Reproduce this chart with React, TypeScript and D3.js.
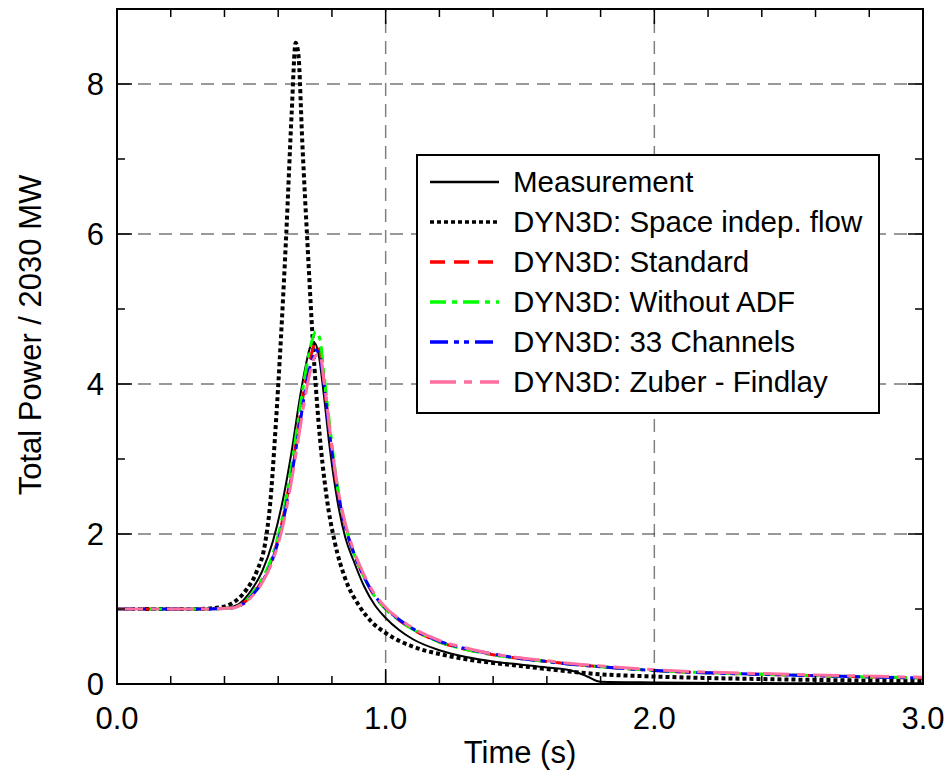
import React, { useEffect, useRef } from "react";
import * as d3 from "d3";

// time (s) / normalized total power
const measTime = [0, 0.3, 0.4, 0.45, 0.5, 0.54, 0.58, 0.62, 0.65, 0.68, 0.7, 0.72, 0.735, 0.75, 0.77, 0.79, 0.82, 0.85, 0.88, 0.92, 0.96, 1.0, 1.05, 1.1, 1.2, 1.3, 1.4, 1.5, 1.6, 1.7, 1.75, 1.8, 2.0, 2.5, 3.0];
const measPower = [1.0, 1.0, 1.01, 1.06, 1.25, 1.5, 1.9, 2.5, 3.1, 3.8, 4.2, 4.5, 4.55, 4.4, 3.85, 3.2, 2.45, 1.95, 1.65, 1.3, 1.05, 0.88, 0.72, 0.6, 0.45, 0.36, 0.3, 0.26, 0.22, 0.17, 0.1, 0.03, 0.02, 0.01, 0.01];

const sifTime = [0, 0.3, 0.38, 0.43, 0.48, 0.52, 0.55, 0.57, 0.59, 0.61, 0.63, 0.65, 0.665, 0.675, 0.69, 0.71, 0.73, 0.75, 0.78, 0.81, 0.85, 0.9, 0.95, 1.0, 1.1, 1.2, 1.3, 1.4, 1.5, 1.6, 1.7, 1.8, 2.0, 2.5, 3.0];
const sifPower = [1.0, 1.0, 1.02, 1.08, 1.25, 1.5, 1.85, 2.4, 3.4, 4.6, 6.0, 7.6, 8.55, 8.4, 7.2, 5.8, 4.5, 3.5, 2.5, 1.9, 1.4, 1.05, 0.82, 0.68, 0.5, 0.4, 0.33, 0.28, 0.24, 0.2, 0.16, 0.13, 0.1, 0.06, 0.04];

const simTime = [0, 0.3, 0.42, 0.47, 0.5, 0.54, 0.58, 0.62, 0.65, 0.68, 0.7, 0.72, 0.74, 0.755, 0.77, 0.79, 0.82, 0.85, 0.88, 0.91, 0.95, 1.0, 1.05, 1.1, 1.2, 1.3, 1.4, 1.5, 1.6, 1.7, 1.8, 2.0, 2.5, 3.0];
const standardPower = [1.0, 1.0, 1.01, 1.08, 1.18, 1.38, 1.7, 2.25, 2.85, 3.55, 4.0, 4.35, 4.55, 4.45, 4.05, 3.4, 2.6, 2.1, 1.75, 1.5, 1.22, 1.0, 0.85, 0.73, 0.56, 0.46, 0.39, 0.34, 0.3, 0.26, 0.23, 0.18, 0.12, 0.08];
const noAdfPower = [1.0, 1.0, 1.01, 1.08, 1.19, 1.4, 1.73, 2.3, 2.92, 3.65, 4.12, 4.5, 4.7, 4.6, 4.15, 3.5, 2.65, 2.12, 1.76, 1.5, 1.22, 1.0, 0.85, 0.73, 0.56, 0.46, 0.39, 0.34, 0.3, 0.26, 0.23, 0.18, 0.12, 0.08];
const ch33Power = [1.0, 1.0, 1.01, 1.07, 1.17, 1.36, 1.67, 2.2, 2.78, 3.45, 3.9, 4.25, 4.45, 4.38, 4.0, 3.38, 2.6, 2.1, 1.76, 1.5, 1.23, 1.01, 0.86, 0.74, 0.57, 0.47, 0.4, 0.34, 0.3, 0.26, 0.23, 0.18, 0.12, 0.08];
const zfPower = [1.0, 1.0, 1.01, 1.07, 1.16, 1.35, 1.65, 2.15, 2.72, 3.38, 3.82, 4.18, 4.38, 4.4, 4.05, 3.45, 2.65, 2.14, 1.79, 1.53, 1.25, 1.02, 0.87, 0.75, 0.58, 0.48, 0.4, 0.35, 0.31, 0.27, 0.24, 0.19, 0.13, 0.09];

const legendLabels = ["Measurement", "DYN3D: Space indep. flow", "DYN3D: Standard", "DYN3D: Without ADF", "DYN3D: 33 Channels", "DYN3D: Zuber - Findlay"];
const xTicks = [0, 1, 2, 3];
const yTicks = [0, 2, 4, 6, 8];

const App = () => {
  const ref = useRef<SVGSVGElement>(null);

  useEffect(() => {
    const width = 951;
    const height = 776;
    const margin = { top: 9, right: 28, bottom: 92, left: 117 };
    const font = "'Liberation Sans', Arial, sans-serif";

    const svg = d3.select(ref.current);
    svg.selectAll("*").remove();

    const x = d3.scaleLinear().domain([0, 3]).range([margin.left, width - margin.right]);
    const y = d3.scaleLinear().domain([0, 9]).range([height - margin.bottom, margin.top]);

    const x0 = x(0), x1 = x(3), y0 = y(0), y1 = y(9);

    // grid
    const grid = svg.append("g");
    grid.selectAll(".gx").data([1, 2]).enter().append("line")
      .attr("x1", (d) => x(d)).attr("x2", (d) => x(d))
      .attr("y1", y0).attr("y2", y1)
      .attr("stroke", "#808080").attr("stroke-width", 1.5).attr("stroke-dasharray", "13,8");
    grid.selectAll(".gy").data([2, 4, 6, 8]).enter().append("line")
      .attr("x1", x0).attr("x2", x1)
      .attr("y1", (d) => y(d)).attr("y2", (d) => y(d))
      .attr("stroke", "#333").attr("stroke-width", 1).attr("stroke-dasharray", "13,8");

    // series
    const series = [
      { t: measTime, v: measPower, color: "#000", w: 2, dash: null },
      { t: sifTime, v: sifPower, color: "#000", w: 4, dash: "4,3" },
      { t: simTime, v: standardPower, color: "#ff0000", w: 3, dash: "15,9" },
      { t: simTime, v: noAdfPower, color: "#00ff00", w: 3, dash: "16,6,5,6" },
      { t: simTime, v: ch33Power, color: "#0000ff", w: 3, dash: "18,6,5,5,5,6" },
      { t: simTime, v: zfPower, color: "#ff6e9e", w: 3, dash: "26,8,8,8" },
    ];

    const line = d3.line<[number, number]>()
      .x((d) => x(d[0]))
      .y((d) => y(d[1]))
      .curve(d3.curveMonotoneX);

    series.forEach((s) => {
      const pts = s.t.map((t, k) => [t, s.v[k]] as [number, number]);
      svg.append("path")
        .attr("d", line(pts))
        .attr("fill", "none")
        .attr("stroke", s.color)
        .attr("stroke-width", s.w)
        .attr("stroke-dasharray", s.dash)
        .attr("stroke-linejoin", "round");
    });

    // frame
    svg.append("rect")
      .attr("x", x0).attr("y", y1)
      .attr("width", x1 - x0).attr("height", y0 - y1)
      .attr("fill", "none").attr("stroke", "#000").attr("stroke-width", 2);

    // ticks (inward, all four sides)
    const ticks = svg.append("g").attr("stroke", "#000").attr("stroke-width", 1.5);
    const xMinor = d3.range(0, 3.001, 0.2);
    const yMinor = d3.range(0, 9.001, 1);
    xMinor.forEach((t) => {
      const major = Math.abs(t - Math.round(t)) < 1e-6;
      const len = major ? 15 : 8;
      ticks.append("line").attr("x1", x(t)).attr("x2", x(t)).attr("y1", y0).attr("y2", y0 - len);
      ticks.append("line").attr("x1", x(t)).attr("x2", x(t)).attr("y1", y1).attr("y2", y1 + len);
    });
    yMinor.forEach((v) => {
      const major = v % 2 === 0;
      const len = major ? 15 : 8;
      ticks.append("line").attr("x1", x0).attr("x2", x0 + len).attr("y1", y(v)).attr("y2", y(v));
      ticks.append("line").attr("x1", x1).attr("x2", x1 - len).attr("y1", y(v)).attr("y2", y(v));
    });

    // tick labels
    svg.selectAll(".xl").data(xTicks).enter().append("text")
      .attr("x", (d) => x(d)).attr("y", 729)
      .attr("text-anchor", "middle")
      .attr("font-family", font).attr("font-size", 31)
      .text((d) => d.toFixed(1));
    svg.selectAll(".yl").data(yTicks).enter().append("text")
      .attr("x", 104).attr("y", (d) => y(d) + 11)
      .attr("text-anchor", "end")
      .attr("font-family", font).attr("font-size", 31)
      .text((d) => String(d));

    // axis titles
    svg.append("text")
      .attr("x", (x0 + x1) / 2).attr("y", 763)
      .attr("text-anchor", "middle")
      .attr("font-family", font).attr("font-size", 31)
      .text("Time (s)");
    svg.append("text")
      .attr("transform", `translate(41,335) rotate(-90)`)
      .attr("text-anchor", "middle")
      .attr("font-family", font).attr("font-size", 31)
      .text("Total Power / 2030 MW");

    // legend
    const lg = svg.append("g");
    lg.append("rect")
      .attr("x", 417).attr("y", 155).attr("width", 462).attr("height", 258)
      .attr("fill", "#fff").attr("stroke", "#000").attr("stroke-width", 2);
    legendLabels.forEach((label, i) => {
      const s = series[i];
      const cy = 182 + i * 40;
      lg.append("line")
        .attr("x1", 430).attr("x2", 499).attr("y1", cy).attr("y2", cy)
        .attr("stroke", s.color).attr("stroke-width", s.w === 2 ? 2.5 : 3.5)
        .attr("stroke-dasharray", s.dash);
      lg.append("text")
        .attr("x", 513).attr("y", cy + 10)
        .attr("font-family", font).attr("font-size", 29.5)
        .text(label);
    });
  }, []);

  return (
    <svg
      ref={ref}
      width={951}
      height={776}
      style={{ position: "absolute", left: 0, top: 0, background: "#fff" }}
    />
  );
};

export default App;
